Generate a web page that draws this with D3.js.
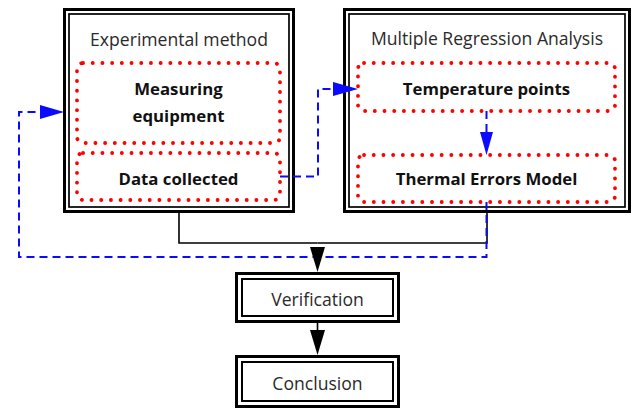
<!DOCTYPE html>
<html>
<head>
<meta charset="utf-8">
<script src="https://cdn.jsdelivr.net/npm/d3@7"></script>
<style>
  html, body { margin: 0; padding: 0; background: #fff; }
  svg { display: block; }
</style>
</head>
<body>
<svg id="chart" width="635" height="411"></svg>
<script>
// ---- data (labels and relationships only) ----
const groupTitles = ["Experimental method", "Multiple Regression Analysis"];
const stepLabels = [["Measuring", "equipment"], ["Data collected"], ["Temperature points"], ["Thermal Errors Model"]];
const stepGroups = [0, 0, 1, 1];
const outcomeLabels = ["Verification", "Conclusion"];
const solidFlows = [["group0", "outcome0"], ["group1", "outcome0"], ["outcome0", "outcome1"]];
const dashedFlows = [["step3", "group0"], ["step1", "step2"], ["step2", "step3"]];

// ---- layout (positions / sizes) ----
const layout = {
  group0: { x0: 63, y0: 8, x1: 295, y1: 213, title: 46 },
  group1: { x0: 343, y0: 8, x1: 631, y1: 213, title: 45 },
  step0: { x0: 77, y0: 63, x1: 280, y1: 143, lines: [95, 122] },
  step1: { x0: 77, y0: 153, x1: 280, y1: 200, lines: [185] },
  step2: { x0: 358, y0: 63, x1: 615, y1: 111, lines: [95] },
  step3: { x0: 358, y0: 155, x1: 615, y1: 202, lines: [185] },
  outcome0: { x0: 235, y0: 272, x1: 400, y1: 323, line: 306 },
  outcome1: { x0: 235, y0: 355, x1: 400, y1: 408, line: 390 }
};
const joinY = 243;       // solid merge line
const loopY = 257;       // dashed feedback line bottom
const loopX = 19;        // dashed feedback line left
const feedY = 112;       // dashed feedback entry
const midX = 318;        // dashed step1->step2 vertical

const svg = d3.select("#chart");
const FONT = "'Open Sans', 'Noto Sans', sans-serif";
const BLUE = "#0a0aff";
const cx = b => (b.x0 + b.x1) / 2;

function doubleBox(g, b, outerW, innerInset, innerW) {
  g.append("rect")
    .attr("x", b.x0 + outerW / 2).attr("y", b.y0 + outerW / 2)
    .attr("width", b.x1 - b.x0 - outerW).attr("height", b.y1 - b.y0 - outerW)
    .attr("fill", "#fff").attr("stroke", "#000").attr("stroke-width", outerW);
  g.append("rect")
    .attr("x", b.x0 + innerInset).attr("y", b.y0 + innerInset)
    .attr("width", b.x1 - b.x0 - 2 * innerInset).attr("height", b.y1 - b.y0 - 2 * innerInset)
    .attr("fill", "none").attr("stroke", "#000").attr("stroke-width", innerW);
}

function arrowHead(g, tipX, tipY, dir, len, half, color) {
  let pts;
  if (dir === "down") pts = [[tipX, tipY], [tipX - half, tipY - len], [tipX + half, tipY - len]];
  else pts = [[tipX, tipY], [tipX - len, tipY - half], [tipX - len, tipY + half]];
  g.append("path").attr("d", d3.line()(pts) + "Z").attr("fill", color).attr("stroke", "none");
}

const line = d3.line();

// group containers
const gGroups = svg.append("g");
groupTitles.forEach((t, i) => {
  const b = layout["group" + i];
  doubleBox(gGroups, b, 3, 6, 1.7);
  gGroups.append("text")
    .attr("x", cx(b)).attr("y", b.title)
    .attr("text-anchor", "middle")
    .attr("font-family", FONT).attr("font-size", 17.6).attr("fill", "#2a2a2a")
    .text(t);
});

// solid links
const gSolid = svg.append("g");
const o0 = layout.outcome0, o1 = layout.outcome1;
solidFlows.forEach(([a, b]) => {
  const A = layout[a], B = layout[b];
  if (a.startsWith("group")) {
    gSolid.append("path")
      .attr("d", line([[cx(A), A.y1], [cx(A), joinY], [cx(B), joinY]]))
      .attr("fill", "none").attr("stroke", "#000").attr("stroke-width", 1.6);
  } else {
    gSolid.append("path")
      .attr("d", line([[cx(A), A.y1], [cx(B), B.y0 - 10]]))
      .attr("fill", "none").attr("stroke", "#000").attr("stroke-width", 1.6);
  }
});

// dashed links
const gDash = svg.append("g");
const dashAttr = sel => sel.attr("fill", "none").attr("stroke", BLUE)
  .attr("stroke-width", 2).attr("stroke-dasharray", "8 5");
dashedFlows.forEach(([a, b]) => {
  const A = layout[a], B = layout[b];
  let pts;
  if (a === "step3") {
    pts = [[cx(A), A.y1], [cx(A), loopY], [loopX, loopY], [loopX, feedY], [B.x0 - 14, feedY]];
    gDash.append("path").attr("d", line(pts)).call(dashAttr);
    arrowHead(gDash, B.x0 + 1, feedY, "right", 24, 7, BLUE);
  } else if (a === "step1") {
    const yA = (A.y0 + A.y1) / 2, yB = (B.y0 + B.y1) / 2 + 2;
    pts = [[A.x1, yA], [midX, yA], [midX, yB], [B.x0 - 14, yB]];
    gDash.append("path").attr("d", line(pts)).call(dashAttr);
    arrowHead(gDash, B.x0, yB, "right", 25, 7, BLUE);
  } else {
    pts = [[cx(A), A.y1], [cx(A), B.y0 - 14]];
    gDash.append("path").attr("d", line(pts)).call(dashAttr);
    arrowHead(gDash, cx(B), B.y0, "down", 23, 6.5, BLUE);
  }
});

// step boxes (red dotted)
const gSteps = svg.append("g");
stepLabels.forEach((lines, i) => {
  const b = layout["step" + i];
  gSteps.append("rect")
    .attr("x", b.x0).attr("y", b.y0)
    .attr("width", b.x1 - b.x0).attr("height", b.y1 - b.y0)
    .attr("rx", 6).attr("ry", 6)
    .attr("fill", "none").attr("stroke", "#ff0000")
    .attr("stroke-width", 3.8).attr("stroke-linecap", "round")
    .attr("stroke-dasharray", "0.1 9.6");
  lines.forEach((l, k) => {
    gSteps.append("text")
      .attr("x", cx(b)).attr("y", b.lines[k])
      .attr("text-anchor", "middle")
      .attr("font-family", FONT).attr("font-weight", "bold")
      .attr("font-size", 16.8).attr("fill", "#111")
      .text(l);
  });
});

// outcome boxes
const gOut = svg.append("g");
outcomeLabels.forEach((t, i) => {
  const b = layout["outcome" + i];
  doubleBox(gOut, b, 3, 7, 2);
  gOut.append("text")
    .attr("x", cx(b)).attr("y", b.line)
    .attr("text-anchor", "middle")
    .attr("font-family", FONT).attr("font-size", 17.6).attr("fill", "#2a2a2a")
    .text(t);
});

// black arrowheads (drawn on top of the dashed line)
arrowHead(svg, cx(o0), o0.y0, "down", 25, 7.5, "#000");
arrowHead(svg, cx(o1), o1.y0, "down", 25, 7.5, "#000");
</script>
</body>
</html>
